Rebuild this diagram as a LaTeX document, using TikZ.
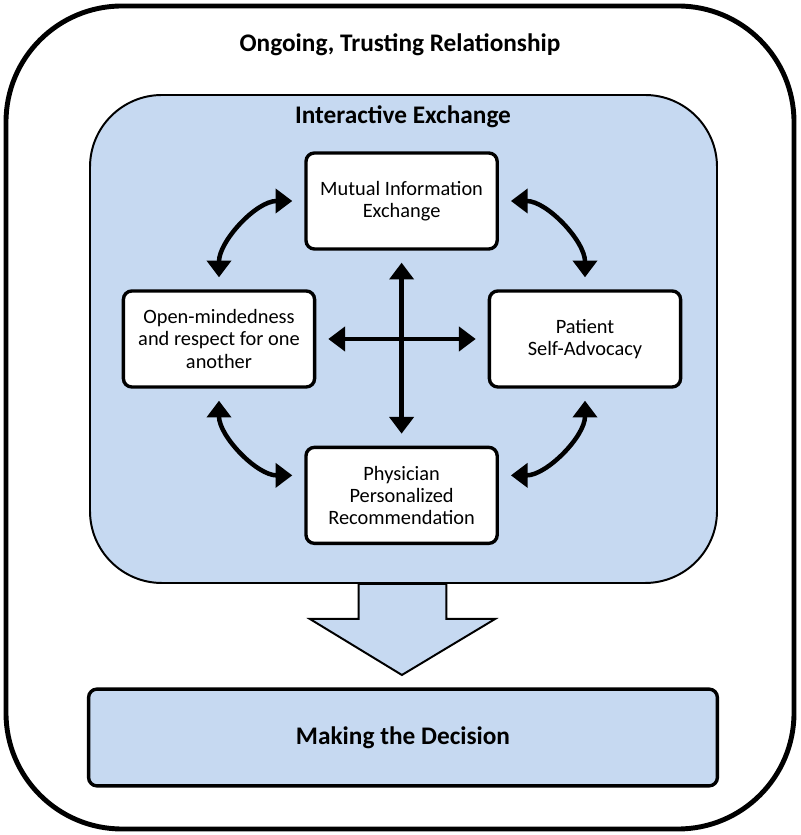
\documentclass[tikz,border=0pt]{standalone}
\usepackage{fontspec}
\setmainfont{Carlito}
\usepackage{tikz}
\usetikzlibrary{positioning,arrows.meta}
\definecolor{paleblue}{HTML}{C6D9F1}

\begin{document}
\begin{tikzpicture}[
  font=\fontsize{14.5}{15.8}\selectfont,
  item/.style={draw, line width=2.4pt, rounded corners=6pt, fill=white, align=center, minimum width=4.78cm, minimum height=2.4cm, inner sep=2pt},
  heading/.style={font=\fontsize{18}{21}\selectfont\bfseries},
  link/.style={<->, line width=3.2pt, shorten <=0.3cm, shorten >=0.3cm},
  >={Triangle[length=4.2mm,width=6mm]}
]
\useasboundingbox (0,0) rectangle (20,20.875);
\draw[line width=3.5pt, rounded corners=2.9cm] (0.15,0.15) rectangle (19.85,20.725);
\node[heading] (rellabel) at (10,19.75) {Ongoing, Trusting Relationship};
\node[draw, fill=paleblue, line width=1.4pt, rounded corners=1.8cm, minimum width=15.675cm, minimum height=12.2cm] (exchange) at (10.0875,12.4) {};
\node[heading] (exlabel) at (10.075,17.95) {Interactive Exchange};
\node[item] (mutual) at (10.04,15.85) {Mutual Information\\Exchange};
\node[item] (openm) at (5.475,12.4) {Open-mindedness\\and respect for one\\another};
\node[item] (patient) at (14.625,12.4) {Patient\\Self-Advocacy};
\node[item, below=4.875cm of mutual] (physician) {Physician\\Personalized\\Recommendation};
\draw[link] (mutual.south) -- (physician.north);
\draw[link] (openm.east) -- (patient.west);
\draw[link] (openm.north) to[out=90,in=180] (mutual.west);
\draw[link] (mutual.east) to[out=0,in=90] (patient.north);
\draw[link] (openm.south) to[out=-90,in=180] ([yshift=0.5cm]physician.west);
\draw[link] ([yshift=0.5cm]physician.east) to[out=0,in=-90] (patient.south);
% big arrow down to the decision
\draw[line width=1.4pt, fill=paleblue, shift={(exchange.south)}] (-1.12,0) -- (-1.12,-0.875) -- (-2.34,-0.875) -- (-0.04,-2.275) -- (2.29,-0.875) -- (1.07,-0.875) -- (1.07,0) -- cycle;
\node[draw, fill=paleblue, line width=2.4pt, rounded corners=6pt, minimum width=15.72cm, minimum height=2.42cm, heading] (decision) at (10.075,2.4375) {Making the Decision};
\end{tikzpicture}
\end{document}
